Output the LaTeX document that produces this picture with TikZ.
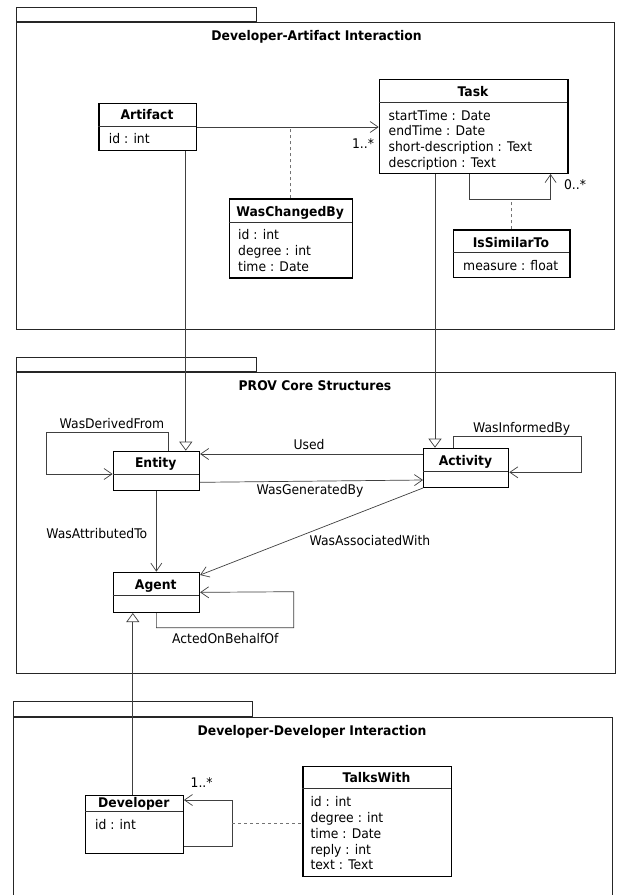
\documentclass[tikz,border=0pt]{standalone}
\usepackage{fontspec}
\setmainfont{DejaVu Sans}[FakeStretch=0.93]
\usetikzlibrary{arrows.meta}
\newcommand\umlcls[8]{%
  \node[clsbox, minimum width={(#4-#2)*1pt}, minimum height={(#5-#3)*1pt}] (#1) at (#2,#3) {};
  \draw[divline] (#2,#6) -- (#4,#6);
  \node[ttl] (#1-t) at ({(#2+#4)/2},#7) {#8};
}
\newcommand\umlattr[4]{%
  \foreach \attxt [count=\i] in {#4} {\node[attr] (#1-a\i) at (#2,{#3+(\i-1)*15.8}) {\attxt};}
}
\begin{document}
\begin{tikzpicture}[x=1pt,y=-1pt,
  every node/.style={font=\fontsize{13.3}{15.8}\selectfont, text=black, inner sep=0pt},
  pkgbox/.style={draw=black!85, line width=1pt, inner sep=0pt},
  clsbox/.style={draw=black, line width=1.3pt, fill=white, anchor=north west, inner sep=0pt},
  divline/.style={draw=black!80, line width=0.8pt},
  ttl/.style={font=\fontsize{13.3}{15.8}\selectfont\bfseries, anchor=base},
  attr/.style={anchor=base west},
  lbl/.style={anchor=base},
  conn/.style={draw=black!75, line width=0.7pt},
  opn/.style={conn, -{Straight Barb[length=8pt,width=11pt]}},
  gen/.style={conn, -{Triangle[open,length=9pt,width=13pt,fill=white]}},
  dsh/.style={draw=black!55, line width=0.7pt, dash pattern=on 3pt off 3pt},
]
\useasboundingbox (0,0) rectangle (618,895);
\fill[white] (0,0) rectangle (618,895);
\clip (0,0) rectangle (618,895);

% packages
\node[pkgbox, anchor=north west, minimum width=598.2pt, minimum height=306.7pt] (pkgA) at (15.8,22.3) {};
\node[pkgbox, anchor=south west, minimum width=240.2pt, minimum height=14pt] (pkgAtab) at (15.8,22.3) {};
\node[ttl] (pkgAt) at (316.6,40.5) {Developer-Artifact Interaction};

\node[pkgbox, anchor=north west, minimum width=598.7pt, minimum height=301.6pt] (pkgB) at (15.8,371.7) {};
\node[pkgbox, anchor=south west, minimum width=240.2pt, minimum height=14pt] (pkgBtab) at (15.8,371.7) {};
\node[ttl] (pkgBt) at (315,390.5) {PROV Core Structures};

\node[pkgbox, anchor=north west, minimum width=599pt, minimum height=185pt] (pkgC) at (13,716.7) {};
\node[pkgbox, anchor=south west, minimum width=239pt, minimum height=15pt] (pkgCtab) at (13,716.7) {};
\node[ttl] (pkgCt) at (312,735.5) {Developer-Developer Interaction};

% classes
\umlcls{artifact}{98.4}{102.7}{195.7}{150}{126.3}{119.5}{Artifact}
\umlattr{artifact}{108.7}{143.8}{id : int}
\umlcls{task}{378.7}{79}{567.2}{172.7}{102}{96.3}{Task}
\umlattr{task}{388.5}{120}{startTime : Date, endTime : Date, short-description : Text, description : Text}
\umlcls{wcb}{228.5}{198.3}{351.8}{277.3}{222.7}{216}{WasChangedBy}
\umlattr{wcb}{238}{239.5}{id : int, degree : int, time : Date}
\umlcls{iss}{452.6}{229.3}{569.2}{276.7}{252.3}{247}{IsSimilarTo}
\umlattr{iss}{463}{270.3}{measure : float}
\umlcls{entity}{112.6}{450.7}{198.8}{489.7}{474}{467.5}{Entity}
\umlcls{activity}{423}{447.7}{508}{486.7}{471.7}{465}{Activity}
\umlcls{agent}{112.6}{571.7}{198.8}{611.7}{595.7}{589.5}{Agent}
\umlcls{developer}{85}{795}{182.6}{852.7}{811.7}{807.8}{Developer}
\umlattr{developer}{94.9}{829}{id : int}
\umlcls{talks}{302.4}{766}{450.6}{875.7}{788.7}{782.5}{TalksWith}
\umlattr{talks}{310.3}{806.7}{id : int, degree : int, time : Date, reply : int, text : Text}

% helper coordinates
\coordinate (tl1) at (469,199.3);
\coordinate (tl2) at (550.6,199.3);
\coordinate (ax) at (185.8,0);
\coordinate (tx) at (435,0);
\coordinate (dx) at (132.8,0);

% Developer-Artifact
\draw[opn] (artifact.east) -- (artifact.east -| task.west);
\node[lbl] (m1) at (363,148.5) {1..*};
\draw[dsh] (wcb.north) -- (wcb.north |- artifact.east);
\draw[opn] (tl1 |- task.south) -- (tl1) -- (tl2) -- (tl2 |- task.south);
\node[lbl] (m2) at (575,189.5) {0..*};
\draw[dsh] (iss.north) -- (iss.north |- tl1);

% generalizations
\draw[gen] (ax |- artifact.south) -- (ax |- entity.north);
\draw[gen] (tx |- task.south) -- (tx |- activity.north);
\draw[gen] (dx |- developer.north) -- (dx |- agent.south);

% PROV core
\draw[opn] (activity.west |- 0,454) -- (entity.east |- 0,454);
\node[lbl] (lused) at (309,449.5) {Used};
\draw[opn] (entity.east |- 0,482.3) -- (activity.west |- 0,480);
\node[lbl] (lgen) at (310,494.8) {WasGeneratedBy};
\draw[opn] (entity.north -| 168.8,0) -- (168.8,432.3) -- (46.6,432.3) -- (46.6,474) -- (entity.west |- 0,474);
\node[lbl] (lder) at (112,428.8) {WasDerivedFrom};
\draw[opn] (activity.north -| 453.4,0) -- (453.4,436.7) -- (581.8,436.7) -- (581.8,472.3) -- (activity.east |- 0,472.3);
\node[lbl] (linf) at (521.7,432.2) {WasInformedBy};
\draw[opn] (entity.south) -- (agent.north);
\node[lbl] (latt) at (96.8,538.5) {WasAttributedTo};
\draw[opn] (activity.south west) -- (agent.east |- 0,575);
\node[lbl] (lass) at (370,545.2) {WasAssociatedWith};
\draw[opn] (agent.south) -- (agent.south |- 0,627.7) -- (293.7,627.7) -- (293.7,591.7) -- (agent.east);
\node[lbl] (lact) at (225.3,643.5) {ActedOnBehalfOf};

% Developer-Developer
\draw[opn] (developer.east |- 0,846) -- (232.4,846) -- (232.4,800) -- (developer.east |- 0,800);
\node[lbl] (m3) at (201.6,787.8) {1..*};
\draw[dsh] (232.4,823.3) -- (talks.west |- 0,823.3);
\end{tikzpicture}
\end{document}
